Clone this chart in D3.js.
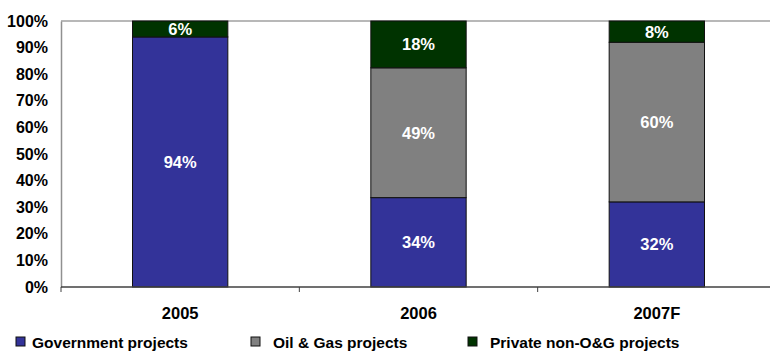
<!DOCTYPE html>
<html>
<head>
<meta charset="utf-8">
<script src="https://cdn.jsdelivr.net/npm/d3@7"></script>
<style>
  body { margin: 0; background: #fff; }
  svg text { font-family: "Liberation Sans", Arial, sans-serif; font-weight: bold; }
</style>
</head>
<body>
<svg id="chart"></svg>
<script>
// chart data
const years = ["2005", "2006", "2007F"];
const seriesNames = ["Government projects", "Oil & Gas projects", "Private non-O&G projects"];
const government = [94, 33.6, 32];
const oilGas = [0, 48.8, 60];
const privateNonOG = [6, 17.6, 8];
const yTicks = [0, 10, 20, 30, 40, 50, 60, 70, 80, 90, 100];

const colors = ["#333399", "#808080", "#003300"];

let width = 770, height = 352;
let plotLeft = 61, plotRight = 776, plotTop = 21, plotBottom = 287;

let svg = d3.select('#chart')
  .attr('width', width)
  .attr('height', height);

// rows for the stack
let rows = years.map((y, i) => ({
  year: y,
  s0: government[i],
  s1: oilGas[i],
  s2: privateNonOG[i]
}));
let stacked = d3.stack().keys(["s0", "s1", "s2"])(rows);

let xScale = d3.scaleBand()
  .domain(years)
  .range([plotLeft, plotRight])
  .paddingInner(0.6)
  .paddingOuter(0.3);
let yScale = d3.scaleLinear()
  .domain([0, 100])
  .range([plotBottom, plotTop]);

// top frame line
svg.append('line')
  .attr('x1', plotLeft).attr('x2', width)
  .attr('y1', yScale(100)).attr('y2', yScale(100))
  .style('stroke', '#a0a0a0')
  .style('stroke-width', 1.5);

// y axis
let yAxis = svg.append('g')
  .attr('transform', `translate(${plotLeft},0)`)
  .call(d3.axisLeft(yScale).tickValues(yTicks).tickSize(0).tickPadding(13).tickFormat(d => d + '%'));
yAxis.select('.domain').style('stroke', '#909090').style('stroke-width', 1.5);
yAxis.selectAll('text')
  .style('font-size', '16px')
  .style('fill', '#000');

// bars
let groups = svg.selectAll('g.series')
  .data(stacked)
  .enter().append('g')
  .attr('class', 'series')
  .style('fill', (d, i) => colors[i]);

groups.selectAll('rect')
  .data(d => d.filter(p => p[1] - p[0] > 0))
  .enter().append('rect')
  .attr('x', d => xScale(d.data.year))
  .attr('width', xScale.bandwidth())
  .attr('y', d => yScale(d[1]))
  .attr('height', d => yScale(d[0]) - yScale(d[1]))
  .style('stroke', '#111')
  .style('stroke-width', 1);

// value labels
groups.selectAll('text')
  .data(d => d.filter(p => p[1] - p[0] > 0))
  .enter().append('text')
  .attr('x', d => xScale(d.data.year) + xScale.bandwidth() / 2)
  .attr('y', d => (yScale(d[0]) + yScale(d[1])) / 2)
  .attr('dy', '0.36em')
  .attr('text-anchor', 'middle')
  .style('font-size', '16.5px')
  .style('fill', '#fff')
  .text(d => Math.round(d[1] - d[0]) + '%');

// x axis with ticks between categories
let boundaries = years.map(y => xScale(y) - xScale.step() * xScale.paddingInner() / 2);
svg.append('line')
  .attr('x1', plotLeft).attr('x2', width)
  .attr('y1', plotBottom).attr('y2', plotBottom)
  .style('stroke', '#404040')
  .style('stroke-width', 1.5);
svg.selectAll('line.xtick')
  .data([plotLeft].concat(boundaries.slice(1)))
  .enter().append('line')
  .attr('class', 'xtick')
  .attr('x1', d => d).attr('x2', d => d)
  .attr('y1', plotBottom).attr('y2', plotBottom + 5)
  .style('stroke', '#404040');
svg.selectAll('text.xlabel')
  .data(years)
  .enter().append('text')
  .attr('class', 'xlabel')
  .attr('x', d => xScale(d) + xScale.bandwidth() / 2)
  .attr('y', 319)
  .attr('text-anchor', 'middle')
  .style('font-size', '16.5px')
  .style('fill', '#000')
  .text(d => d);

// legend
const legendX = [16, 251, 468];
let legend = svg.selectAll('g.legend')
  .data(seriesNames)
  .enter().append('g')
  .attr('class', 'legend')
  .attr('transform', (d, i) => `translate(${legendX[i]},337)`);
legend.append('rect')
  .attr('width', 9).attr('height', 9)
  .style('fill', (d, i) => colors[i])
  .style('stroke', '#111')
  .style('stroke-width', 1);
legend.append('text')
  .attr('x', (d, i) => i === 0 ? 16 : 22)
  .attr('y', 11)
  .style('font-size', '15.5px')
  .style('fill', '#000')
  .text(d => d);
</script>
</body>
</html>
